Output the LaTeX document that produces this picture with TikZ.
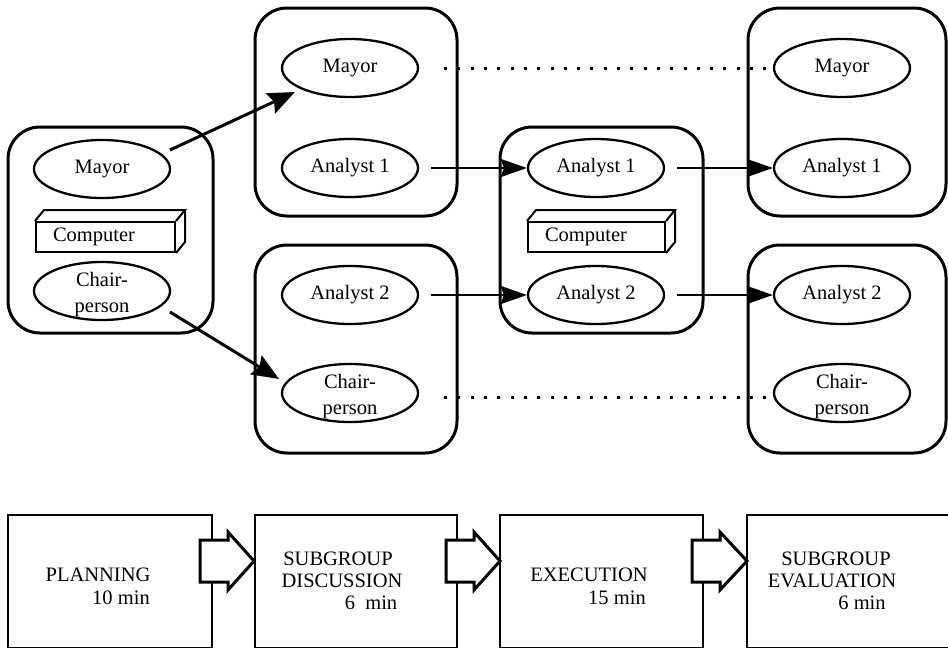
\documentclass[tikz,border=0pt]{standalone}
\usepackage{fontspec}
\setmainfont{Liberation Serif}
\usetikzlibrary{arrows.meta,calc,shapes.geometric}

\begin{document}
\begin{tikzpicture}[x=1pt,y=-1pt,
  font=\fontsize{20.5}{25}\selectfont,
  groupbox/.style={line width=3pt, rounded corners=32pt},
  person/.style={ellipse, draw, line width=2.3pt, minimum width=136pt,
    minimum height=58pt, inner sep=0pt, align=center},
  twoline/.style={inner sep=0pt, align=center,
    font=\fontsize{20.5}{26}\selectfont},
  cube/.style={draw, line width=2pt, minimum height=30pt, inner ysep=0pt,
    inner xsep=17pt},
  cubeface/.style={line width=2pt, line join=miter},
  handoff/.style={line width=3pt, -{Stealth[length=27pt,width=22pt,inset=4pt]}},
  relay/.style={line width=2pt, -{Stealth[length=26pt,width=18pt,inset=3pt]}},
  samegroup/.style={line width=3pt, dash pattern=on 3pt off 10.3pt},
  stagebox/.style={line width=2.5pt},
  blockarrow/.style={line width=3pt, fill=white, line join=miter},
  label/.style={anchor=base, inner sep=0pt}]

\useasboundingbox (0,0) rectangle (948,648);
\clip (0,0) rectangle (948,648);

% ---- room layout: groups of participants ----
\draw[groupbox] (8,127) rectangle (213,333);
\draw[groupbox] (255,8) rectangle (457,216);
\draw[groupbox] (255,245) rectangle (457,453);
\draw[groupbox] (500,127) rectangle (703,333);
\draw[groupbox] (748,8) rectangle (946,216);
\draw[groupbox] (748,245) rectangle (946,453);

% planning group
\node[person] (g1mayor) at (102,169) {Mayor};
\node[cube] (comp1) at (105.5,237) {\makebox[105pt][l]{Computer}};
\node[person] (g1chair) at (102,291) {};
\node[twoline] (g1chairtext) at ([yshift=-3.5pt]g1chair.center) {Chair-\\person};

% subgroup discussion
\node[person] (g2mayor) at (350,68) {Mayor};
\node[person] (g2an1) at (350,168) {Analyst 1};
\node[person] (g2an2) at (350,295) {Analyst 2};
\node[person] (g2chair) at (350,393) {};
\node[twoline] (g2chairtext) at ([yshift=-3.5pt]g2chair.center) {Chair-\\person};

% execution
\node[person] (g3an1) at (596,168) {Analyst 1};
\node[cube] (comp3) at (596.5,237) {\makebox[103pt][l]{Computer}};
\node[person] (g3an2) at (596,295) {Analyst 2};

% subgroup evaluation
\node[person] (g4mayor) at (842,68) {Mayor};
\node[person] (g4an1) at (842,168) {Analyst 1};
\node[person] (g4an2) at (842,295) {Analyst 2};
\node[person] (g4chair) at (842,393) {};
\node[twoline] (g4chairtext) at ([yshift=-3.5pt]g4chair.center) {Chair-\\person};

% 3D faces of the computers
\foreach \c in {comp1,comp3}{
  \draw[cubeface] (\c.north west) -- ++(9,-11) -- ($(\c.north east)+(9,-11)$)
    -- (\c.north east);
  \draw[cubeface] ($(\c.north east)+(9,-11)$) -- ($(\c.south east)+(9,-11)$)
    -- (\c.south east);
}

% ---- movements between phases ----
\draw[handoff] ([shift={(68,-19)}]g1mayor.center) -- ([shift={(-55,24)}]g2mayor.center);
\draw[handoff] ([shift={(68,21)}]g1chair.center) -- ([shift={(-71,-14)}]g2chair.center);

\draw[relay] ([xshift=12pt]g2an1.east) -- (g3an1.west);
\draw[relay] ([xshift=12pt]g2an2.east) -- (g3an2.west);
\draw[relay] ([xshift=12pt]g3an1.east) -- (g4an1.west);
\draw[relay] ([xshift=12pt]g3an2.east) -- (g4an2.west);

\draw[samegroup] ([xshift=25pt]g2mayor.east) -- (g4mayor.west);
\draw[samegroup] ([shift={(25,4)}]g2chair.east) -- ([shift={(0,4)}]g4chair.west);

% ---- timeline of phases ----
\draw[stagebox] (8,515) rectangle (212,648.5);
\draw[stagebox] (255,515) rectangle (457,648.5);
\draw[stagebox] (500,515) rectangle (703,648.5);
\draw[stagebox] (747,515) rectangle (990,648.5);

\foreach \xa/\xt in {200/254, 446/500, 692/747}{
  \draw[blockarrow] (\xa,540) -- (\xa+28,540) -- (\xa+28,532) -- (\xt,561)
    -- (\xa+28,590) -- (\xa+28,582) -- (\xa,582) -- cycle;
}

\node[label] (plan) at (98,581) {PLANNING};
\node[label] (plant) at (121,604) {10 min};
\node[label] (disc1) at (338,565) {SUBGROUP};
\node[label] (disc2) at (342,587) {DISCUSSION};
\node[label] (disct) at (371,609) {6\ \ min};
\node[label] (exec) at (589,581) {EXECUTION};
\node[label] (exect) at (617,604) {15 min};
\node[label] (eval1) at (836,565) {SUBGROUP};
\node[label] (eval2) at (832,587) {EVALUATION};
\node[label] (evalt) at (862,609) {6 min};

\end{tikzpicture}
\end{document}
